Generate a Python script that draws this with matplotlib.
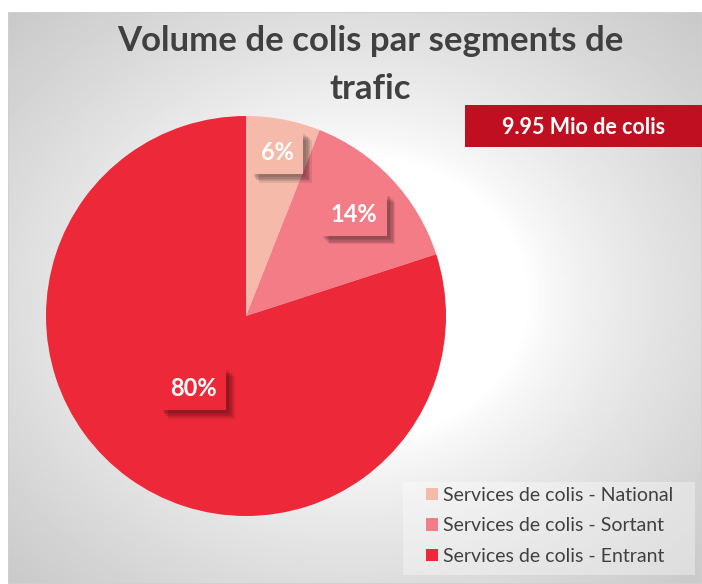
import numpy as np
import matplotlib.pyplot as plt
import matplotlib.patheffects as pe
from matplotlib.patches import Rectangle

segments = ['Services de colis - National', 'Services de colis - Sortant', 'Services de colis - Entrant']
shares = [6, 14, 80]
colors = ['#F6BAAA', '#F37C87', '#ED2939']
label_dist = [0.83, 0.74, 0.45]
title = 'Volume de colis par segments de\ntrafic'
total_label = '9.95 Mio de colis'

W, H = 702, 584
plt.rcParams['font.family'] = ['Lato', 'DejaVu Sans']

fig = plt.figure(figsize=(W / 100, H / 100), dpi=100, facecolor='white')

def fx(x):
    return x / W

def fy(y):
    return 1 - y / H

# fond degrade radial
bg = fig.add_axes([fx(8), 0, fx(W - 8), fy(12)])
gx, gy = np.meshgrid(np.linspace(-1, 1, 300), np.linspace(-1, 1, 300))
d = np.sqrt(gx ** 2 + gy ** 2)
v = 1 - 0.21 * np.clip((d - 0.5) / 0.91, 0, 1) ** 0.75
bg.imshow(v, cmap='gray', vmin=0, vmax=1, extent=[0, 1, 0, 1], aspect='auto', interpolation='bilinear')
bg.add_patch(Rectangle((0, 0), 1, 1, transform=bg.transAxes, fill=False, ec='#d0d0d0', lw=1.2))
bg.set_axis_off()

# camembert
ax = fig.add_axes([fx(46), fy(516), fx(400), 400 / H])
wedges, _ = ax.pie(shares, colors=colors, startangle=90, counterclock=False, radius=1,
                   wedgeprops=dict(linewidth=0))
ax.set_xlim(-1, 1)
ax.set_ylim(-1, 1)
ax.set_aspect('equal')
ax.set_axis_off()

# ombre floue approximee par plusieurs couches
shadow = [pe.SimplePatchShadow(offset=(o, -o), shadow_rgbFace='#000000', alpha=0.09)
          for o in (2, 3, 4, 5, 6)]

for w, s, c, dist in zip(wedges, shares, colors, label_dist):
    th = np.deg2rad((w.theta1 + w.theta2) / 2)
    t = ax.text(dist * np.cos(th), dist * np.sin(th), f'{s}%', ha='center', va='center',
                color='white', fontsize=17, fontweight='bold',
                bbox=dict(boxstyle='square,pad=0.42', fc=c, ec='none'))
    t.get_bbox_patch().set_path_effects(shadow + [pe.Normal()])

fig.text(fx(370), fy(65), title, ha='center', va='center', fontsize=25,
         fontweight='bold', color='#404040', linespacing=1.58)

# encadre total
fig.patches.append(Rectangle((fx(465), fy(147)), fx(W - 465), 42 / H,
                             transform=fig.transFigure, fc='#C00F20', ec='none'))
fig.text(fx(584), fy(127), total_label, ha='center', va='center', fontsize=15.5,
         fontweight='bold', color='white')

# fond de legende
fig.patches.append(Rectangle((fx(403), fy(575)), fx(292), 93 / H,
                             transform=fig.transFigure, fc='white', alpha=0.35, ec='none'))
fig.legend(wedges, segments, loc='upper left', bbox_to_anchor=(fx(420), fy(481)),
           frameon=False, fontsize=14, handlelength=0.6,
           handleheight=0.6, handletextpad=0.3, labelspacing=0.7,
           borderpad=0.3, borderaxespad=0, labelcolor='#404040')

fig.savefig('out.png', dpi=100)
